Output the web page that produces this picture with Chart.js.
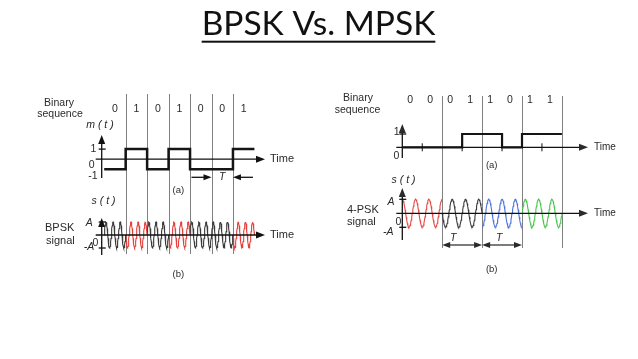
<!DOCTYPE html>
<html>
<head>
<meta charset="utf-8">
<script src="https://cdn.jsdelivr.net/npm/chart.js@4.4.0/dist/chart.umd.min.js"></script>
<style>
  html, body { margin: 0; padding: 0; background: #fff; }
  canvas { display: block; }
</style>
</head>
<body>
<canvas id="pskChart" width="638" height="359"></canvas>
<script>
// Data
const bpskBits = [0, 1, 0, 1, 0, 0, 1];
const bpskLevels = [-1, 1];            // m(t) for bit 0 / bit 1
const bpskPhases = [0, 180];           // carrier phase (deg) for bit 0 / bit 1
const bpskColors = ['#3a3a3a', '#e4413d'];

const qpskBits = [0, 0, 0, 1, 1, 0, 1, 1];
const qpskPhases = [90, 180, 270, 0];  // for dibits 00, 01, 10, 11
const qpskColors = ['#e24a46', '#3a3a3a', '#4a72dc', '#48c44b'];

const cyclesPerSymbol = 3;
const samplesPerCycle = 24;

const mTickLabels = ['1', '0', '-1'];
const sTickLabels = ['A', '0', '-A'];
const unipolarTickLabels = ['1', '0'];

// Layout of the two panels (pixels)
const W = 638, H = 359;
const left = { x0: 104.2, bitW: 21.46, mZero: 159.2, mUnit: 10.1, sZero: 235, sUnit: 13 };
const right = { x0: 402.3, bitW: 19.95, qZero: 147.3, qUnit: 13.3, pZero: 213.3, pUnit: 14 };

function xRange(origin, unit) {
  return { min: -origin / unit, max: (W - origin) / unit };
}
function yRange(zero, unit) {
  return { min: (zero - H) / unit, max: zero / unit };
}

function carrier(start, length, phaseDeg) {
  const pts = [];
  const n = cyclesPerSymbol * samplesPerCycle;
  for (let k = 0; k <= n; k++) {
    const u = k / n;
    pts.push({
      x: start + u * length,
      y: Math.sin(2 * Math.PI * cyclesPerSymbol * u + phaseDeg * Math.PI / 180)
    });
  }
  return pts;
}

const datasets = [];

// m(t) bipolar message
const mPoints = bpskBits.map((b, i) => ({ x: i, y: bpskLevels[b] }));
mPoints.push({ x: bpskBits.length, y: bpskLevels[bpskBits[bpskBits.length - 1]] });
datasets.push({ data: mPoints, xAxisID: 'xl', yAxisID: 'ym', stepped: true, borderColor: '#151515', borderWidth: 2.5 });

// BPSK signal
bpskBits.forEach((b, i) => {
  datasets.push({ data: carrier(i, 1, bpskPhases[b]), xAxisID: 'xl', yAxisID: 'ys', borderColor: bpskColors[b], borderWidth: 1.1 });
});

// unipolar binary sequence for 4-PSK
const qPoints = qpskBits.map((b, i) => ({ x: i, y: b }));
qPoints.push({ x: qpskBits.length, y: qpskBits[qpskBits.length - 1] });
datasets.push({ data: qPoints, xAxisID: 'xr', yAxisID: 'yq', stepped: true, borderColor: '#151515', borderWidth: 2.2 });

// 4-PSK signal
for (let j = 0; j < qpskBits.length; j += 2) {
  const sym = qpskBits[j] * 2 + qpskBits[j + 1];
  datasets.push({ data: carrier(j, 2, qpskPhases[sym]), xAxisID: 'xr', yAxisID: 'yp', borderColor: qpskColors[sym], borderWidth: 1.1 });
}

// drawing helpers
function seg(ctx, x1, y1, x2, y2) {
  ctx.beginPath(); ctx.moveTo(x1, y1); ctx.lineTo(x2, y2); ctx.stroke();
}
function head(ctx, x, y, dir, len = 9, half = 3.5) {
  ctx.beginPath();
  ctx.moveTo(x, y);
  if (dir === 'right') { ctx.lineTo(x - len, y - half); ctx.lineTo(x - len, y + half); }
  if (dir === 'left') { ctx.lineTo(x + len, y - half); ctx.lineTo(x + len, y + half); }
  if (dir === 'up') { ctx.lineTo(x - half, y + len); ctx.lineTo(x + half, y + len); }
  ctx.closePath(); ctx.fill();
}
function label(ctx, str, x, y, opt = {}) {
  ctx.font = (opt.italic ? 'italic ' : '') + (opt.size || 10.5) + 'px "Liberation Sans", Arial, sans-serif';
  ctx.textAlign = opt.align || 'center';
  ctx.textBaseline = 'middle';
  ctx.fillStyle = '#2a2a2a';
  ctx.fillText(str, x, y);
}
function axes(ctx, ax, yTop, yBottom, y0, xEnd) {
  seg(ctx, ax, yBottom, ax, yTop + 6);
  head(ctx, ax, yTop, 'up');
  seg(ctx, ax - 6, y0, xEnd - 6, y0);
  head(ctx, xEnd, y0, 'right');
}
const crisp = v => Math.round(v) + 0.5;

const sketchPlugin = {
  id: 'sketch',
  beforeDatasetsDraw(chart) {
    const ctx = chart.ctx, s = chart.scales;
    ctx.save();
    ctx.strokeStyle = '#808080';
    ctx.lineWidth = 1;
    for (let i = 1; i < bpskBits.length; i++) {
      const x = crisp(s.xl.getPixelForValue(i));
      seg(ctx, x, 94, x, 254);
    }
    for (let i = 2; i <= qpskBits.length; i += 2) {
      const x = crisp(s.xr.getPixelForValue(i));
      seg(ctx, x, 96, x, 248);
    }
    ctx.restore();
  },
  afterDatasetsDraw(chart) {
    const ctx = chart.ctx, s = chart.scales;
    ctx.save();
    ctx.strokeStyle = '#111';
    ctx.fillStyle = '#111';
    ctx.lineWidth = 1.3;

    // ---- left panel ----
    const axL = s.xl.getPixelForValue(0) - 2.5;
    const m0 = s.ym.getPixelForValue(0), m1 = s.ym.getPixelForValue(1);
    axes(ctx, axL, 135, 178, m0, 265);
    seg(ctx, axL - 3, m1, axL + 4, m1);

    const s0 = s.ys.getPixelForValue(0), sA = s.ys.getPixelForValue(1), sB = s.ys.getPixelForValue(-1);
    axes(ctx, axL, 218, 255, s0, 265);
    seg(ctx, axL - 3, sA, axL + 4, sA);
    seg(ctx, axL - 3, sB, axL + 4, sB);

    // T marker
    const t5 = s.xl.getPixelForValue(5), t6 = s.xl.getPixelForValue(6);
    ctx.fillStyle = '#111';
    seg(ctx, t5 - 20, 177.3, t5 - 7, 177.3); head(ctx, t5, 177.3, 'right', 8, 3);
    seg(ctx, t6 + 20, 177.3, t6 + 7, 177.3); head(ctx, t6, 177.3, 'left', 8, 3);

    label(ctx, 'Binary', 59, 103);
    label(ctx, 'sequence', 60, 114);
    bpskBits.forEach((b, i) => label(ctx, String(b), s.xl.getPixelForValue(i + 0.5), 109));
    label(ctx, 'm ( t )', 100, 125, { italic: true });
    label(ctx, mTickLabels[0], 93.3, 149);
    label(ctx, mTickLabels[1], 91.7, 165);
    label(ctx, mTickLabels[2], 93, 176.5);
    label(ctx, 'Time', 270, m0, { align: 'left', size: 11 });
    label(ctx, 'T', (t5 + t6) / 2, 177, { italic: true });
    label(ctx, '(a)', 178.3, 190, { size: 9.5 });
    label(ctx, 's ( t )', 103.5, 201, { italic: true });
    label(ctx, sTickLabels[0], 89.3, 222.7, { italic: true });
    label(ctx, sTickLabels[1], 95.5, 242.7);
    label(ctx, sTickLabels[2], 89, 247.5, { italic: true });
    label(ctx, 'BPSK', 45, 228.3, { align: 'left', size: 11 });
    label(ctx, 'signal', 46, 241, { align: 'left', size: 11 });
    label(ctx, 'Time', 270, s0, { align: 'left', size: 11 });
    label(ctx, '(b)', 178.3, 274.3, { size: 9.5 });

    // ---- right panel ----
    const axR = s.xr.getPixelForValue(0);
    const q0 = s.yq.getPixelForValue(0), q1 = s.yq.getPixelForValue(1);
    axes(ctx, axR, 124, 158, q0, 588);
    seg(ctx, axR - 3, q1, axR + 4, q1);
    ctx.lineWidth = 1;
    for (let i = 1; i < qpskBits.length; i += 2) {
      const x = s.xr.getPixelForValue(i);
      seg(ctx, x, q0 - 4, x, q0 + 4);
    }
    ctx.lineWidth = 1.3;

    const p0 = s.yp.getPixelForValue(0), pA = s.yp.getPixelForValue(1), pB = s.yp.getPixelForValue(-1);
    axes(ctx, axR, 188, 240, p0, 588);
    seg(ctx, axR - 3, pA, axR + 4, pA);
    seg(ctx, axR - 3, pB, axR + 4, pB);

    // T markers
    ctx.lineWidth = 1.1;
    [[2, 4], [4, 6]].forEach(([a, b]) => {
      const xa = s.xr.getPixelForValue(a), xb = s.xr.getPixelForValue(b);
      seg(ctx, xa + 6, 245, xb - 6, 245);
      head(ctx, xa, 245, 'left', 8, 3);
      head(ctx, xb, 245, 'right', 8, 3);
    });

    label(ctx, 'Binary', 358, 98.3);
    label(ctx, 'sequence', 357.5, 110);
    qpskBits.forEach((b, i) => label(ctx, String(b), s.xr.getPixelForValue(i + 0.5) - 2, 100));
    label(ctx, unipolarTickLabels[0], 396.7, 131.7);
    label(ctx, unipolarTickLabels[1], 396.3, 155.7);
    label(ctx, 'Time', 594, q0, { align: 'left', size: 10 });
    label(ctx, '(a)', 491.7, 165, { size: 9.5 });
    label(ctx, 's ( t )', 403.5, 180, { italic: true });
    label(ctx, sTickLabels[0], 391, 201.7, { italic: true });
    label(ctx, sTickLabels[1], 398.3, 221.7);
    label(ctx, sTickLabels[2], 388.3, 231.7, { italic: true });
    label(ctx, '4-PSK', 347, 210, { align: 'left', size: 11 });
    label(ctx, 'signal', 347, 221.7, { align: 'left', size: 11 });
    label(ctx, 'Time', 594, p0, { align: 'left', size: 10 });
    label(ctx, 'T', 453.3, 238.3, { italic: true });
    label(ctx, 'T', 499.3, 238.3, { italic: true });
    label(ctx, '(b)', 491.7, 269.3, { size: 9.5 });

    // ---- title ----
    ctx.font = '400 33.5px Lato, "Open Sans", sans-serif';
    ctx.textAlign = 'center';
    ctx.textBaseline = 'alphabetic';
    ctx.fillStyle = '#111';
    const title = 'BPSK Vs. MPSK';
    ctx.fillText(title, 318.5, 35);
    const tw = ctx.measureText(title).width;
    ctx.fillRect(318.5 - tw / 2, 40.7, tw, 2);

    ctx.restore();
  }
};

const hidden = (range) => ({ type: 'linear', display: false, min: range.min, max: range.max });

new Chart(document.getElementById('pskChart'), {
  type: 'line',
  data: { datasets: datasets },
  options: {
    responsive: false,
    animation: false,
    layout: { padding: 0 },
    elements: { point: { radius: 0 }, line: { tension: 0, fill: false } },
    plugins: { legend: { display: false }, tooltip: { enabled: false } },
    scales: {
      xl: hidden(xRange(left.x0, left.bitW)),
      xr: hidden(xRange(right.x0, right.bitW)),
      ym: hidden(yRange(left.mZero, left.mUnit)),
      ys: hidden(yRange(left.sZero, left.sUnit)),
      yq: hidden(yRange(right.qZero, right.qUnit)),
      yp: hidden(yRange(right.pZero, right.pUnit))
    }
  },
  plugins: [sketchPlugin]
});
</script>
</body>
</html>
